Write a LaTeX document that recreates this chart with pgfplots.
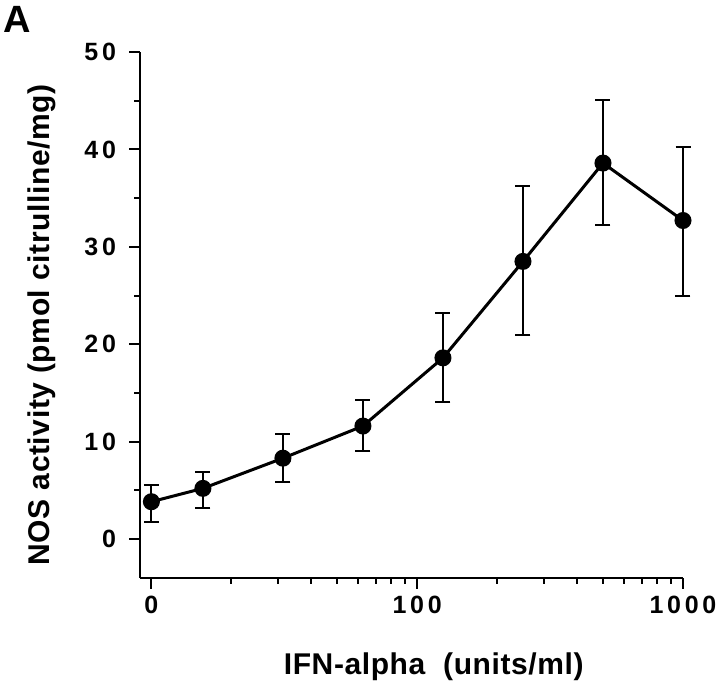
\documentclass[border=0pt]{standalone}
\usepackage{fontspec}
\setmainfont{Liberation Sans}
\newfontfamily\labelfont{Liberation Sans}[LetterSpace=2]
\newfontfamily\tickfont{Liberation Sans}[LetterSpace=15]
\usepackage{pgfplots}
\usepackage{pgfplotstable}
\pgfplotsset{compat=1.18}

% dose (0 drawn at 10 on the log axis), activity, +err, -err
\pgfplotstableread{
dose    nos   ep    em
10      3.83  1.67  2.08
15.625  5.2   1.7   2.0
31.25   8.3   2.5   2.4
62.5    11.6  2.7   2.6
125     18.6  4.6   4.5
250     28.5  7.7   7.6
500     38.6  6.5   6.4
1000    32.7  7.5   7.8
}\nosdata

\begin{document}
\begin{tikzpicture}
\begin{axis}[
    scale only axis,
    width=271.5pt, height=263pt,
    xmode=log,
    xmin=9.06, xmax=1000,
    ymin=-4, ymax=50,
    axis lines=left,
    axis line style={-, line width=1.3pt},
    tick align=outside,
    tick style={black, line width=1pt},
    major tick length=5.5pt,
    minor tick length=3pt,
    xtick={10,100,1000},
    xticklabels={0,100,1000},
    minor xtick={20,30,40,50,60,70,80,90,200,300,400,500,600,700,800,900},
    ytick={0,10,20,30,40,50},
    yticklabels={0,10,20,30,40,50},
    minor ytick={5,15,25,35,45},
    ticklabel style={font=\tickfont\fontsize{12.5}{14}\selectfont\bfseries},
    yticklabel style={xshift=-3pt},
    xlabel={IFN-alpha\ \ (units/ml)},
    ylabel={NOS activity (pmol citrulline/mg)},
    label style={font=\labelfont\fontsize{15}{17}\selectfont\bfseries},
    xlabel style={at={(axis description cs:0.541,-0.184)}, anchor=base},
    ylabel style={at={(axis description cs:-0.166,0.481)}, anchor=base},
    clip=false,
]
\addplot[black, line width=1.5pt, mark=*, mark size=3.5pt,
    error bars/.cd, y dir=both, y explicit,
    error bar style={line width=1pt},
    error mark options={line width=1pt, mark size=3.75pt, rotate=90}]
    table[x=dose, y=nos, y error plus=ep, y error minus=em] {\nosdata};
\node[anchor=north west, inner sep=0pt, font=\fontsize{19}{21}\selectfont\bfseries]
    at (axis description cs:-0.253,1.088) {A};
\end{axis}
\pgfresetboundingbox
\useasboundingbox (-70pt,-56.5pt) rectangle (290pt,289pt);
\end{tikzpicture}
\end{document}
